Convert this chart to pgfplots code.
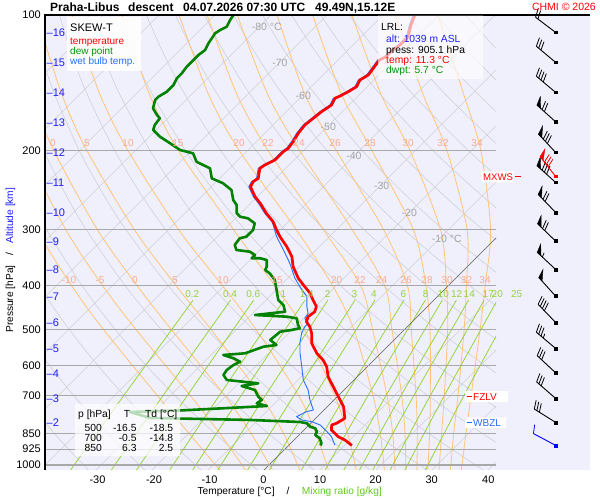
\documentclass[border=0pt]{standalone}
\usepackage{pgfplots}
\pgfplotsset{compat=1.18}
\usepackage{pgfplotstable}
\usepackage{fontspec}
\setmainfont{Liberation Sans}
\newcommand\fs[1]{\fontsize{#1}{#1}\selectfont}
\tikzset{f10/.style={font=\fs{10}},f105/.style={font=\fs{10.5}},f11/.style={font=\fs{11}},f103/.style={font=\fs{10.3}}}
\definecolor{bgl}{RGB}{240,240,252}
\definecolor{isog}{RGB}{168,168,168}
\definecolor{thing}{RGB}{208,208,214}
\definecolor{moist}{RGB}{255,196,120}
\definecolor{mixr}{RGB}{140,210,40}
\definecolor{mixl}{RGB}{150,210,60}
\definecolor{mlab}{RGB}{250,170,140}
\definecolor{tlab}{RGB}{165,165,165}
\definecolor{dewc}{RGB}{0,130,0}
\definecolor{dewt}{RGB}{0,150,0}
\definecolor{wbc}{RGB}{40,110,255}
\definecolor{altc}{RGB}{30,30,255}
\definecolor{mixax}{RGB}{100,200,30}
\def\sk{34.89}
\def\pb{1026.4}
\newcommand\axnode[3]{\edef\tmp{\noexpand\node[#1] at (#2) {#3};}\tmp}

% temperature
\pgfplotstableread{
T p
-54.3 100.0
-53.2 105.3
-51.6 111.9
-51.6 116.6
-52.0 119.6
-52.0 124.0
-52.6 125.9
-52.2 131.4
-51.9 135.9
-52.5 139.5
-51.9 144.3
-52.5 148.1
-53.2 151.4
-53.7 153.2
-53.1 158.5
-53.7 164.0
-54.0 169.7
-54.3 175.6
-54.0 183.2
-53.4 191.3
-53.1 197.8
-53.4 201.3
-53.4 210.0
-54.3 215.5
-54.6 219.2
-53.1 230.7
-53.4 234.7
-53.0 240.8
-50.4 253.4
-48.3 262.1
-45.4 275.9
-42.7 288.0
-40.6 300.5
-38.8 311.0
-35.8 327.3
-33.1 344.5
-31.1 362.6
-28.1 384.8
-26.0 398.2
-23.3 415.5
-21.6 430.0
-19.8 445.0
-19.2 456.5
-19.5 468.3
-18.9 480.5
-17.4 492.9
-15.9 509.9
-14.1 536.7
-11.4 564.8
-9.1 584.5
-7.25 604.9
-5.2 636.7
-2.5 670.2
0.2 705.4
2.9 742.3
5.2 787.7
4.6 808.2
4.05 815.2
4.9 836.4
7.3 865.5
9.1 880.3
11.3 905.1
}\tabT

% dew point
\pgfplotstableread{
T p
-86.7 100.0
-86.4 102.6
-85.8 106.2
-86.4 108.0
-86.7 109.8
-86.1 115.6
-85.5 119.6
-85.8 122.7
-85.8 127.0
-85.8 130.3
-85.5 134.8
-85.5 138.3
-84.9 143.1
-84.9 148.1
-85.5 151.9
-85.5 154.5
-84.4 161.2
-82.5 166.8
-81.4 169.7
-81.1 175.6
-80.5 180.1
-78.1 186.4
-75.1 192.8
-72.1 199.6
-69.2 203.0
-67.1 211.9
-63.5 219.2
-61.4 230.7
-58.5 236.6
-55.8 244.9
-53.7 257.7
-52.2 264.4
-50.7 275.9
-49.5 280.7
-47.8 283.1
-45.7 290.4
-44.8 300.5
-44.8 311.0
-45.7 313.6
-45.4 324.5
-44.2 332.9
-41.5 335.8
-40.0 341.5
-40.0 347.3
-38.5 347.3
-37.0 350.4
-35.8 362.6
-35.5 368.8
-34.1 375.1
-32.0 388.1
-29.9 408.5
-27.8 430.0
-26.0 441.1
-24.5 456.5
-29.3 464.3
-23.3 468.3
-21.25 472.2
-19.8 488.7
-18.9 497.0
-20.1 501.3
-21.8 505.7
-22.1 527.6
-20.1 541.3
-22.1 546.0
-24.2 564.8
-27.8 569.7
-25.4 579.4
-23.6 589.6
-24.2 599.7
-24.5 615.2
-24.2 631.1
-22.7 647.5
-16.5 658.5
-19.0 667.7
-15.9 681.5
-14.1 705.4
-12.9 717.3
-13.2 729.5
-10.9 739.7
-25.6 756.9
-34.3 762.7
-29.6 786.5
-11.4 794.6
-2.1 802.8
-0.7 808.2
0.5 822.3
1.7 829.1
2.6 843.6
2.9 858.0
4.3 872.6
5.5 895.2
5.7 905.1
}\tabTd

% wet bulb
\pgfplotstableread{
T p
-54.6 100.0
-53.5 105.3
-51.9 111.9
-51.9 116.6
-52.3 119.6
-52.3 124.0
-52.9 125.9
-52.5 131.4
-52.2 135.9
-52.8 139.5
-52.2 144.3
-52.8 148.1
-53.5 151.4
-54.0 153.2
-53.4 158.5
-54.0 164.0
-54.3 169.7
-54.6 175.6
-54.3 183.2
-53.7 191.3
-53.4 197.8
-53.7 201.3
-53.7 210.0
-54.6 215.5
-54.9 219.2
-53.4 230.7
-53.7 234.7
-53.3 240.8
-50.7 253.4
-48.6 262.1
-45.7 275.9
-42.9 288.0
-42.1 292.9
-39.4 311.0
-35.8 332.9
-32.3 356.3
-28.7 384.8
-26.3 401.7
-23.3 422.8
-21.5 445.0
-20.1 460.3
-19.8 472.2
-18.3 484.4
-18.3 492.9
-17.7 509.9
-16.2 536.7
-14.4 564.8
-11.7 604.9
-9.05 647.5
-6.4 681.5
-4.3 717.3
-1.9 755.0
-2.8 761.6
-3.7 781.3
-2.2 794.6
-0.1 801.6
2.0 815.2
4.4 843.6
6.1 865.5
8.2 903.1
}\tabTw

% dry adiabat factors (p/1000)^0.2857
\pgfplotstableread{
p pi
1026.4 1.00747
900 0.97035
800 0.93824
700 0.90311
600 0.86421
500 0.82034
400 0.76967
300 0.70892
250 0.67297
200 0.63139
150 0.58157
120 0.54566
100 0.51795
}\tabDry

% moist adiabats (temperature in C)
\pgfplotstableread{
p mna mnb m0 m5 m10 m15 m20 m22 m24 m26 m28 m30 m32 m34
1026.4 -7.9 -3.3 1.5 6.4 11.5 16.5 21.5 23.4 25.35 27.3 29.25 31.25 33.3 35.25
850 -20.0 -14.5 -8.9 -3.1 2.65 8.35 14.2 16.4 18.6 20.8 23.0 25.15 27.3 29.5
700 -32.45 -26.55 -20.4 -14.0 -7.2 -0.75 6.1 8.6 11.25 13.8 16.35 18.85 21.3 23.65
500 -53.75 -47.95 -41.65 -34.55 -26.5 -17.9 -9.05 -5.7 -2.25 1.2 4.55 7.7 10.65 13.5
400 -67.2 -61.65 -55.5 -48.55 -40.25 -30.9 -20.6 -15.6 -11.3 -7.25 -3.95 -0.3 3.25 6.6
300 -83.45 -78.3 -72.65 -66.05 -58.15 -48.35 -37.15 -32.3 -27.15 -21.55 -16.25 -11.4 -6.65 -2.45
200 -104.2 -99.6 -94.6 -88.7 -81.35 -72.35 -61.5 -56.35 -50.7 -44.15 -37.8 -31.0 -24.4 -18.35
150 -117.5 -113.3 -108.65 -103.2 -96.4 -87.55 -77.0 -71.95 -66.45 -59.8 -53.25 -46.2 -38.7 -31.45
100 -134.55 -130.8 -126.65 -121.85 -115.5 -106.6 -96.4 -91.4 -86.0 -78.9 -72.55 -65.55 -57.8 -50.2
}\tabMoist

% mixing ratio lines (temperature in C)
\pgfplotstableread{
p wa wb wc w1 wd w2 w3 w4 w6 w8 w10 w12 w14 w17 w20 w25
1026.4 -34.53 -27.25 -22.76 -16.82 -12.74 -8.25 -2.94 0.97 6.69 10.90 14.25 17.05 19.45 22.53 25.15 28.81
700 -38.34 -31.33 -27.0 -21.30 -17.38 -13.07 -7.97 -4.23 1.25 5.27 8.48 11.15 13.45 16.39 18.89 22.38
430 -43.0 -36.31 -32.18 -26.75 -23.02 -18.93 -14.09 -10.54 -5.35 -1.54 1.49 4.01 6.18 8.96 11.32 14.61
}\tabMix

\pgfplotstableread{
p
1026.4
100
}\tabIso

\newcommand\barb[6]{%
  \pgfmathsetmacro\bUx{-cos(#2)}%
  \pgfmathsetmacro\bUy{-sin(#2)}%
  \pgfmathsetmacro\bDx{0.94*sin(#2)-0.34*cos(#2)}%
  \pgfmathsetmacro\bDy{-0.94*cos(#2)-0.34*sin(#2)}%
  \pgfmathsetmacro\bTx{555.5+25*\bUx}%
  \pgfmathsetmacro\bTy{#1+25*\bUy}%
  \edef\tmp{\noexpand\addplot[#6,line width=0.9pt] coordinates {(555.5,#1) (\bTx,\bTy)};}\tmp
  \edef\tmp{\noexpand\addplot[#6,only marks,mark=square*,mark size=1.4pt] coordinates {(555.5,#1)};}\tmp
  \ifnum#3>0
    \foreach \k in {1,...,#3}{%
      \pgfmathsetmacro\bs{(\k-1)*5}%
      \pgfmathsetmacro\bAx{\bTx-\bs*\bUx}%
      \pgfmathsetmacro\bAy{\bTy-\bs*\bUy}%
      \pgfmathsetmacro\bBx{\bTx-(\bs+5)*\bUx}%
      \pgfmathsetmacro\bBy{\bTy-(\bs+5)*\bUy}%
      \pgfmathsetmacro\bCx{\bAx+9*\bDx}%
      \pgfmathsetmacro\bCy{\bAy+9*\bDy}%
      \edef\tmp{\noexpand\addplot[#6,fill=#6,line width=0.4pt] coordinates {(\bAx,\bAy) (\bCx,\bCy) (\bBx,\bBy) (\bAx,\bAy)};}\tmp
    }%
    \pgfmathsetmacro\bS{#3*5+2}%
  \else
    \def\bS{0}%
  \fi
  \ifnum#4>0
    \foreach \k in {1,...,#4}{%
      \pgfmathsetmacro\bs{\bS+(\k-1)*3.0}%
      \pgfmathsetmacro\bAx{\bTx-\bs*\bUx}%
      \pgfmathsetmacro\bAy{\bTy-\bs*\bUy}%
      \pgfmathsetmacro\bCx{\bAx+9*\bDx}%
      \pgfmathsetmacro\bCy{\bAy+9*\bDy}%
      \edef\tmp{\noexpand\addplot[#6,line width=0.8pt] coordinates {(\bAx,\bAy) (\bCx,\bCy)};}\tmp
    }%
  \fi
  \ifnum#5>0
    \pgfmathsetmacro\bs{\bS+#4*3.0}%
    \pgfmathsetmacro\bAx{\bTx-\bs*\bUx}%
    \pgfmathsetmacro\bAy{\bTy-\bs*\bUy}%
    \pgfmathsetmacro\bCx{\bAx+4.5*\bDx}%
    \pgfmathsetmacro\bCy{\bAy+4.5*\bDy}%
    \edef\tmp{\noexpand\addplot[#6,line width=0.8pt] coordinates {(\bAx,\bAy) (\bCx,\bCy)};}\tmp
  \fi
}

\begin{document}
\begin{tikzpicture}[x=1pt,y=1pt]
\path[use as bounding box] (0,0) rectangle (600,500);

% background
\begin{axis}[at={(0pt,0pt)},anchor=south west,width=600pt,height=500pt,scale only axis,
  xmin=0,xmax=600,ymin=0,ymax=500,y dir=reverse,hide axis,clip=false]
\addplot[fill=bgl,draw=none] coordinates {(45,15) (590,15) (590,470) (45,470) (45,15)};
\end{axis}

% main skew-T axis
\begin{axis}[at={(45pt,30pt)},anchor=south west,width=451pt,height=455pt,scale only axis,
  xmin=-39.1,xmax=41.43,ymin=100,ymax=1026.4,ymode=log,y dir=reverse,hide axis,
  enlargelimits=false]
\pgfplotsinvokeforeach{-120,-110,...,40}{
  \addplot[thing,line width=0.6pt] table[x expr={#1+\sk*ln(\pb/\thisrow{p})},y=p]{\tabIso};
}
\pgfplotsinvokeforeach{230,240,...,450}{
  \addplot[thing,line width=0.6pt,smooth] table[x expr={\thisrow{pi}*#1-273.15+\sk*ln(\pb/\thisrow{p})},y=p]{\tabDry};
}
\pgfplotsinvokeforeach{mna,mnb,m0,m5,m10,m15,m20,m22,m24,m26,m28,m30,m32,m34}{
  \addplot[moist,line width=0.8pt,smooth] table[x expr={\thisrow{#1}+\sk*ln(\pb/\thisrow{p})},y=p]{\tabMoist};
}
\pgfplotsinvokeforeach{wa,wb,wc,w1,wd,w2,w3,w4,w6,w8,w10,w12,w14,w17,w20,w25}{
  \addplot[mixr,line width=0.7pt,smooth] table[x expr={\thisrow{#1}+\sk*ln(\pb/\thisrow{p})},y=p]{\tabMix};
}
\addplot[black!60,line width=0.6pt] table[x expr={0+\sk*ln(\pb/\thisrow{p})},y=p]{\tabIso};
\pgfplotsinvokeforeach{200,300,400,500,600,700,850,925,1000}{
  \addplot[isog,line width=1.2pt] coordinates {(-39.1,#1) (41.43,#1)};
}
\addplot[dewc,line width=2.6pt,line join=round] table[x expr={\thisrow{T}+\sk*ln(\pb/\thisrow{p})},y=p]{\tabTd};
\addplot[wbc,line width=0.9pt,line join=round] table[x expr={\thisrow{T}+\sk*ln(\pb/\thisrow{p})},y=p]{\tabTw};
\addplot[red,line width=2.7pt,line join=round] table[x expr={\thisrow{T}+\sk*ln(\pb/\thisrow{p})},y=p]{\tabT};
\end{axis}

% overlay
\begin{axis}[at={(0pt,0pt)},anchor=south west,width=600pt,height=500pt,scale only axis,
  xmin=0,xmax=600,ymin=0,ymax=500,y dir=reverse,hide axis,clip=false]
\addplot[black,line width=1.3pt] coordinates {(590,15) (45,15) (45,470)};

\node[anchor=base west,inner sep=0,font={\fs{12}\bfseries}] at (50,11.7) {Praha-Libus};
\node[anchor=base west,inner sep=0,font={\fs{12}\bfseries}] at (128,11.7) {descent};
\node[anchor=base west,inner sep=0,font={\fs{12}\bfseries}] at (183,11.7) {04.07.2026 07:30 UTC};
\node[anchor=base west,inner sep=0,font={\fs{12}\bfseries}] at (315,11.7) {49.49N,15.12E};
\node[anchor=base east,inner sep=0,font={\fs{10.5}},red] at (596,10.8) {CHMI © 2026};

\foreach \lx/\ly/\lt in {266.7/27.3/{-80 °C},280/62.7/-70,303.3/96/-60,328.3/126.7/-50,354/156/-40,381.7/186/-30,409.3/212.7/-20,446.7/239.3/{-10 °C}}{
  \axnode{tlab,f105,inner sep=0}{\lx,\ly}{\lt}
}
\foreach \lx/\lt in {69/-10,100/-5,135/0,175/5,223/10,277/15,336.7/20,360/22,381.7/24,406/26,427/28,447/30,466.5/32,485/34}{
  \axnode{mlab,f10,inner sep=0,anchor=base}{\lx,283.6}{\lt}
}
\foreach \lx/\lt in {53/0,87/5,128/10,178/15,239/20,268/22,299/24,335/26,370/28,408/30,443/32,477/34}{
  \axnode{mlab,f10,inner sep=0,anchor=base}{\lx,146.2}{\lt}
}
\foreach \lx/\lt in {192.3/0.2,230/0.4,253.3/0.6,283.3/1,306.7/1.4,327.7/2,354.3/3,374/4,403.3/6,425.7/8,443.3/10,456.7/12,469.3/14,488.3/17,497.3/20,516.7/25}{
  \axnode{mixl,f10,inner sep=0,anchor=base}{\lx,297.6}{\lt}
}
\foreach \ly/\lt in {18.9/100,154.3/200,233.6/300,289.8/400,333.4/500,369/600,399.1/700,437.1/850,452.4/925,468.8/1000}{
  \axnode{anchor=base east,inner sep=0,f11}{41,\ly}{\lt}
}
\foreach \ly/\lt in {36.2/16,66.2/15,96.2/14,126.2/13,156.8/12,186.4/11,216.6/10,245.6/9,273.6/8,300.3/7,326.4/6,352.5/5,377.4/4,402.4/3,426.4/2}{
  \axnode{anchor=base west,inner sep=0,f11,altc}{46.5,\ly}{\noexpand\textendash\lt}
}
\foreach \lx/\lt in {97.5/-30,154/-20,209.5/-10,263.5/0,320/10,375.5/20,431.7/30,488.3/40}{
  \axnode{anchor=base,inner sep=0,f11}{\lx,483.2}{\lt}
}
\node[anchor=base west,inner sep=0,font={\fs{10.2}}] at (197.3,494.2) {Temperature [°C]};
\node[anchor=base,inner sep=0,font={\fs{10.2}}] at (288,494.2) {/};
\node[anchor=base west,inner sep=0,font={\fs{10.2}},mixax] at (301.7,494.2) {Mixing ratio [g/kg]};
\node[anchor=base west,inner sep=0,font={\fs{10.2}},rotate=90] at (13,333) {Pressure [hPa]};
\node[anchor=base,inner sep=0,font={\fs{10.2}},rotate=90] at (13,254) {/};
\node[anchor=base west,inner sep=0,font={\fs{10.2}},rotate=90,altc] at (13,244) {Altitude [km]};

\addplot[fill=white,fill opacity=0.92,draw=none] coordinates {(67,17) (141,17) (141,71) (67,71) (67,17)};
\node[anchor=base west,inner sep=0,font={\fs{11}}] at (70,31.4) {SKEW-T};
\node[anchor=base west,inner sep=0,font={\fs{10}},red] at (70,44.6) {temperature};
\node[anchor=base west,inner sep=0,font={\fs{10}},dewt] at (70,54.6) {dew point};
\node[anchor=base west,inner sep=0,font={\fs{10}},wbc] at (70,64.6) {wet bulb temp.};

\addplot[fill=white,fill opacity=0.65,draw=none] coordinates {(378,15.7) (483,15.7) (483,79) (378,79) (378,15.7)};
\node[anchor=base west,inner sep=0,font={\fs{10.3}}] at (381,30.6) {LRL:};
\node[anchor=base west,inner sep=0,font={\fs{10.3}},altc] at (386,43) {alt: 1039 m ASL};
\node[anchor=base west,inner sep=0,font={\fs{10.3}}] at (386,53.2) {press: 905.1 hPa};
\node[anchor=base west,inner sep=0,font={\fs{10.3}},red] at (386,63.4) {temp: 11.3 °C};
\node[anchor=base west,inner sep=0,font={\fs{10.3}},dewt] at (386,73.6) {dwpt: 5.7 °C};

\addplot[fill=white,fill opacity=0.72,draw=none] coordinates {(75,404) (180,404) (180,456) (75,456) (75,404)};
\node[anchor=base west,inner sep=0,font={\fs{10.3}}] at (78,417.5) {p [hPa]};
\node[anchor=base,inner sep=0,font={\fs{10.3}}] at (127,417.5) {T};
\node[anchor=base west,inner sep=0,font={\fs{10.3}}] at (145,417.5) {Td [°C]};
\node[anchor=base east,inner sep=0,font={\fs{10.3}}] at (102,431.7) {500};
\node[anchor=base east,inner sep=0,font={\fs{10.3}}] at (136.7,431.7) {-16.5};
\node[anchor=base east,inner sep=0,font={\fs{10.3}}] at (173.3,431.7) {-18.5};
\node[anchor=base east,inner sep=0,font={\fs{10.3}}] at (102,441.7) {700};
\node[anchor=base east,inner sep=0,font={\fs{10.3}}] at (136.7,441.7) {-0.5};
\node[anchor=base east,inner sep=0,font={\fs{10.3}}] at (173.3,441.7) {-14.8};
\node[anchor=base east,inner sep=0,font={\fs{10.3}}] at (102,451.6) {850};
\node[anchor=base east,inner sep=0,font={\fs{10.3}}] at (136.7,451.6) {6.3};
\node[anchor=base east,inner sep=0,font={\fs{10.3}}] at (173.3,451.6) {2.5};

\addplot[fill=white,draw=none] coordinates {(481.7,171.3) (513.5,171.3) (513.5,182.3) (481.7,182.3) (481.7,171.3)};
\node[anchor=base west,inner sep=0,font={\fs{9.6}},red] at (483,180.2) {MXWS};
\addplot[red,line width=1pt] coordinates {(515,176.7) (521,176.7)};
\addplot[fill=white,draw=none] coordinates {(465,391) (508,391) (508,402) (465,402) (465,391)};
\addplot[red,line width=1pt] coordinates {(466.5,396.7) (471.5,396.7)};
\node[anchor=base west,inner sep=0,font={\fs{10}},red] at (473,400.3) {FZLV};
\addplot[fill=white,draw=none] coordinates {(465,417.3) (506,417.3) (506,428) (465,428) (465,417.3)};
\addplot[wbc,line width=1pt] coordinates {(466.5,422.5) (471.5,422.5)};
\node[anchor=base west,inner sep=0,font={\fs{10}},wbc] at (473,426.1) {WBZL};

\barb{32.3}{37}{0}{2}{0}{black}
\barb{62.3}{40}{0}{3}{0}{black}
\barb{92.3}{40}{0}{4}{0}{black}
\barb{121.7}{42}{1}{2}{0}{black}
\barb{152.3}{47}{1}{3}{0}{black}
\barb{182.3}{42}{1}{3}{0}{black}
\barb{176.3}{52}{1}{3}{0}{red}
\barb{212.3}{46}{1}{2}{0}{black}
\barb{241}{44}{1}{2}{0}{black}
\barb{269.3}{43}{1}{0}{1}{black}
\barb{296}{48}{1}{0}{0}{black}
\barb{322.3}{46}{0}{4}{0}{black}
\barb{348.3}{40}{0}{3}{1}{black}
\barb{372.7}{43}{0}{3}{0}{black}
\barb{398.3}{41}{0}{3}{0}{black}
\barb{422.3}{32}{0}{3}{0}{black}
\barb{445.3}{28}{0}{1}{0}{blue}
\end{axis}
\end{tikzpicture}
\end{document}
